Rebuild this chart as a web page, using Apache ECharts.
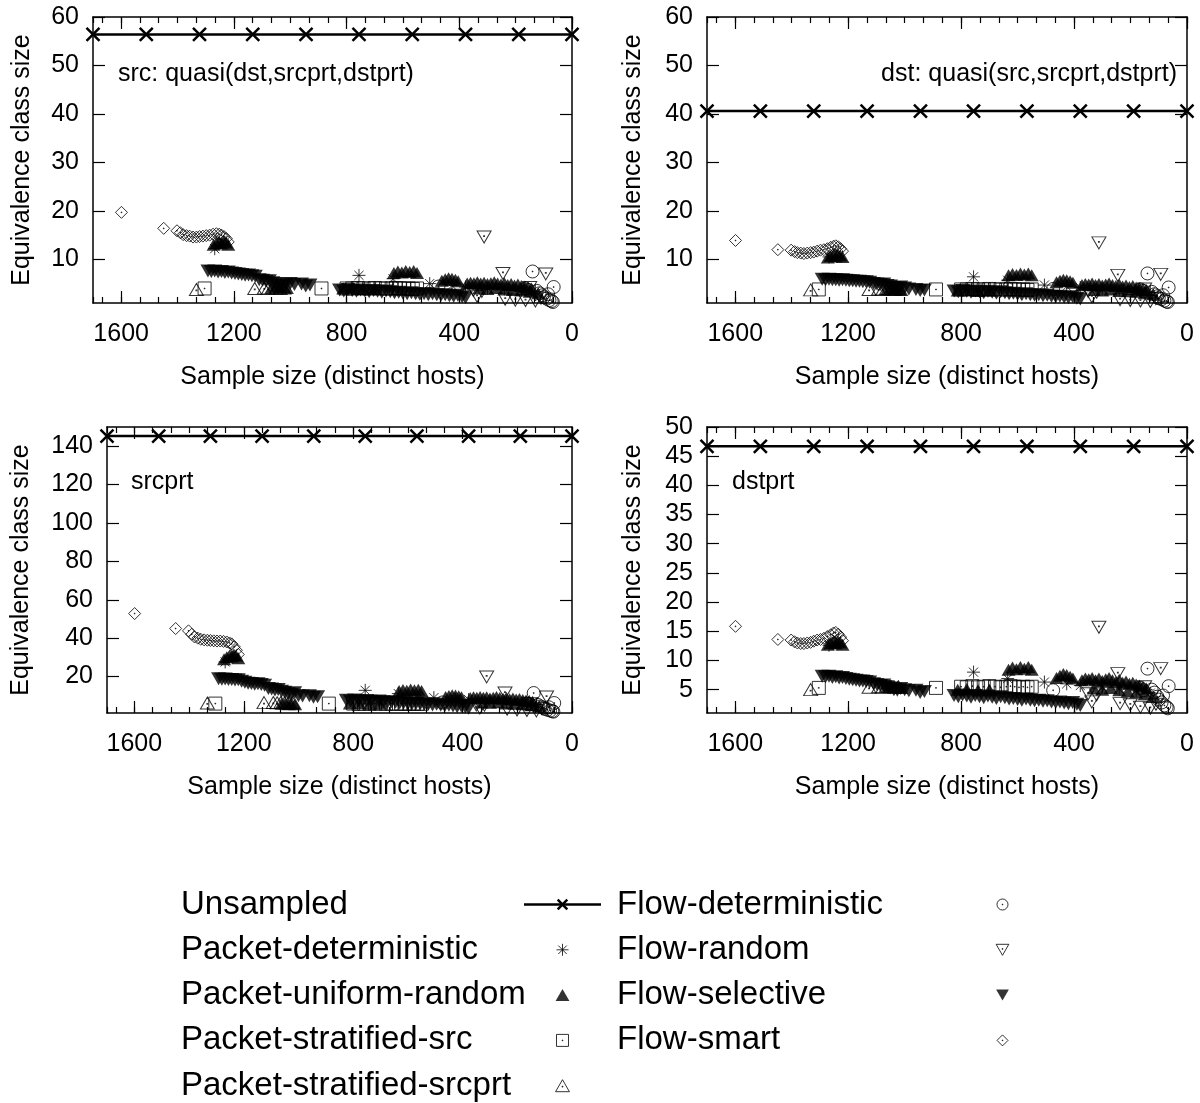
<!DOCTYPE html>
<html>
<head>
<meta charset="utf-8">
<title>Equivalence class size vs sample size</title>
<script src="https://cdn.jsdelivr.net/npm/echarts@6/dist/echarts.min.js"></script>
<style>
  html, body { margin: 0; padding: 0; background: #fff; }
  #chart { width: 1200px; height: 1103px; }
</style>
</head>
<body>
<div id="chart"></div>
<script>
// panels: 0 = src, 1 = dst, 2 = srcprt, 3 = dstprt
// x = sample size (distinct hosts), y = equivalence class size

var xTicks = [0, 400, 800, 1200, 1600];
var yTicksTop = [10, 20, 30, 40, 50, 60];
var yTicksSrcprt = [20, 40, 60, 80, 100, 120, 140];
var yTicksDstprt = [5, 10, 15, 20, 25, 30, 35, 40, 45, 50];

// Unsampled (constant per panel)
var unsampledX = [1700, 1511, 1322, 1133, 944, 756, 567, 378, 189, 0];
var unsampledY = [56.4, 40.6, 145.3, 46.7];

// Packet-deterministic
var pktDetX  = [1268, 756, 635, 505, 426, 378, 300, 240, 180, 130];
var pktDetTL = [12.2, 6.7, 6.0, 5.0, 4.6, 4.3, 4.1, 3.9, 3.7, 3.4];
var pktDetTR = [10.5, 6.4, 5.7, 4.7, 4.4, 4.2, 3.9, 3.7, 3.5, 3.2];
var pktDetBL = [27.6, 12.8, 11.1, 9.0, 8.2, 8.0, 7.2, 6.8, 6.2, 5.5];
var pktDetBR = [12.6, 8.0, 6.9, 6.3, 6.0, 5.7, 5.4, 5.1, 4.8, 4.4];

// Packet-uniform-random
var pktUniX  = [1272, 1262, 1252, 1244, 1236, 1228, 1220, 1062, 1048, 1036, 1024, 1012,
  632, 618, 604, 590, 576, 562, 550, 462, 450, 438, 426, 414, 404,
  372, 360, 348, 336, 324, 312, 300, 288, 276, 264, 252, 240, 228, 216, 204, 192, 180, 168, 156, 144,
  330, 300, 270, 240, 210, 180, 150, 120, 812, 780, 740, 700];
var pktUniTL = [13.0, 13.4, 13.6, 13.3, 13.8, 13.5, 13.0, 4.3, 4.4, 4.2, 4.3, 4.1,
  7.2, 7.5, 7.3, 7.6, 7.4, 7.6, 7.2, 5.6, 5.9, 6.1, 6.0, 5.8, 5.5,
  5.0, 5.2, 5.1, 5.3, 5.0, 5.2, 4.9, 5.1, 5.3, 5.0, 4.8, 5.1, 4.7, 4.9, 4.6, 4.8, 4.5, 4.4, 4.2, 4.0,
  4.0, 3.9, 4.1, 3.8, 3.7, 3.6, 3.3, 3.0, 4.0, 4.1, 3.9, 4.0];
var pktUniTR = [10.4, 10.7, 10.9, 10.6, 11.0, 10.8, 10.5, 3.9, 4.0, 3.8, 3.9, 3.7,
  6.7, 7.0, 6.8, 7.1, 6.9, 7.1, 6.7, 5.3, 5.6, 5.8, 5.7, 5.5, 5.2,
  4.7, 4.9, 4.8, 5.0, 4.7, 4.9, 4.6, 4.8, 5.0, 4.7, 4.5, 4.8, 4.4, 4.6, 4.3, 4.5, 4.2, 4.1, 3.9, 3.7,
  3.7, 3.6, 3.8, 3.5, 3.4, 3.3, 3.0, 2.8, 3.6, 3.7, 3.5, 3.6];
var pktUniBL = [29.0, 30.0, 31.0, 30.5, 31.5, 30.8, 29.5, 5.8, 6.0, 5.6, 5.8, 5.5,
  12.4, 13.0, 12.6, 13.2, 12.8, 13.1, 12.4, 9.3, 9.9, 10.3, 10.1, 9.7, 9.2,
  8.8, 9.2, 9.0, 9.4, 8.9, 9.2, 8.6, 9.0, 9.3, 8.8, 8.4, 8.9, 8.2, 8.5, 8.0, 8.3, 7.8, 7.5, 7.2, 6.8,
  6.5, 6.3, 6.6, 6.0, 5.8, 5.6, 5.0, 4.5, 6.0, 6.2, 5.8, 6.0];
var pktUniBR = [12.7, 13.0, 13.2, 12.9, 13.3, 13.1, 12.7, 5.5, 5.7, 5.4, 5.5, 5.3,
  8.4, 8.8, 8.5, 8.9, 8.6, 8.9, 8.4, 7.0, 7.4, 7.7, 7.5, 7.2, 6.9,
  6.6, 6.9, 6.8, 7.0, 6.6, 6.9, 6.5, 6.8, 7.0, 6.6, 6.3, 6.7, 6.2, 6.4, 6.0, 6.2, 5.9, 5.7, 5.5, 5.2,
  5.2, 5.0, 5.3, 4.9, 4.7, 4.5, 4.2, 3.8, 5.0, 5.1, 4.9, 5.0];

// Packet-stratified-src
var pktSrcX  = [1304, 889, 800, 780, 760, 740, 720, 700, 680, 660, 640, 625, 610, 595, 580, 565, 550];
var pktSrcTL = [4.0, 4.0, 4.0, 4.0, 4.1, 4.0, 4.0, 4.1, 4.0, 4.0, 4.0, 4.1, 4.0, 4.0, 4.0, 3.9, 4.0];
var pktSrcTR = [3.8, 3.8, 3.8, 3.8, 3.9, 3.8, 3.8, 3.9, 3.8, 3.8, 3.8, 3.9, 3.8, 3.8, 3.8, 3.7, 3.8];
var pktSrcBL = [5.9, 5.9, 5.9, 5.8, 5.9, 5.8, 5.9, 5.9, 5.8, 5.9, 5.8, 5.9, 5.8, 5.8, 5.9, 5.8, 5.8];
var pktSrcBR = [5.3, 5.3, 5.5, 5.4, 5.6, 5.4, 5.5, 5.6, 5.5, 5.4, 5.5, 5.6, 5.5, 5.4, 5.5, 5.4, 5.5];

// Packet-stratified-srcprt
var pktPrtX  = [1333, 1126, 1092, 1078, 1064, 1050, 1036, 1022];
var pktPrtTL = [3.8, 4.0, 4.1, 4.0, 4.2, 4.1, 4.0, 4.1];
var pktPrtTR = [3.7, 3.8, 3.9, 3.8, 4.0, 3.9, 3.8, 3.9];
var pktPrtBL = [6.2, 6.4, 6.5, 6.3, 6.6, 6.4, 6.3, 6.4];
var pktPrtBR = [5.0, 5.4, 5.5, 5.4, 5.6, 5.5, 5.4, 5.5];

// Flow-deterministic
var flowDetX  = [474, 165, 155, 140, 125, 115, 105, 100, 90, 85, 80, 72, 68, 65];
var flowDetTL = [4.4, 4.0, 3.7, 7.5, 3.5, 3.0, 2.6, 2.2, 1.9, 2.8, 1.6, 1.4, 1.2, 4.3];
var flowDetTR = [3.9, 3.8, 3.5, 7.1, 3.3, 2.8, 2.4, 2.0, 1.8, 2.6, 1.5, 1.3, 1.2, 4.2];
var flowDetBL = [6.5, 6.0, 5.6, 11.4, 5.2, 4.4, 3.8, 3.2, 2.7, 4.0, 2.3, 2.0, 1.7, 6.2];
var flowDetBR = [4.9, 5.3, 4.9, 8.6, 5.0, 4.5, 3.8, 3.3, 2.8, 4.0, 2.3, 2.0, 1.8, 5.6];

// Flow-random
var flowRndX  = [312, 245, 93, 350, 337, 320, 237, 201, 165, 150, 130, 110];
var flowRndTL = [14.6, 7.1, 7.0, 3.6, 2.4, 3.4, 1.8, 1.6, 1.5, 4.2, 1.4, 2.0];
var flowRndTR = [13.4, 6.7, 6.9, 3.4, 2.3, 3.2, 1.7, 1.5, 1.4, 3.9, 1.3, 1.9];
var flowRndBL = [19.8, 11.4, 9.3, 5.2, 3.6, 5.0, 3.0, 2.6, 2.3, 6.0, 2.1, 3.2];
var flowRndBR = [15.7, 7.75, 8.6, 4.3, 2.9, 4.1, 2.6, 2.4, 2.0, 5.5, 1.8, 2.5];

// Flow-selective
var flowSelX  = [1292, 1280, 1268, 1256, 1244, 1232, 1220, 1208, 1196, 1184, 1172, 1160, 1148, 1136, 1124,
  1110, 1098, 1086, 1074, 1062, 1050, 1038, 1026, 1014, 1000, 985, 960, 945, 930,
  825, 810, 795, 780, 765, 750, 735, 720, 705, 690, 675, 660, 645, 630, 615, 600,
  585, 570, 555, 540, 525, 510, 495, 480, 465, 450, 435, 420, 405, 390, 378];
var flowSelTL = [7.6, 7.5, 7.6, 7.4, 7.5, 7.3, 7.4, 7.2, 7.1, 7.0, 6.9, 6.7, 6.8, 6.6, 6.5,
  5.8, 5.7, 5.5, 5.6, 5.2, 5.0, 4.6, 4.5, 4.9, 5.0, 4.8, 4.9, 4.5, 4.7,
  3.7, 3.5, 3.8, 3.6, 3.4, 3.7, 3.5, 3.3, 3.6, 3.4, 3.2, 3.5, 3.3, 3.1, 3.2, 3.0,
  2.9, 3.1, 2.9, 2.8, 2.9, 2.7, 2.9, 2.7, 2.6, 2.7, 2.5, 2.4, 2.6, 2.3, 2.1];
var flowSelTR = [5.9, 5.8, 5.9, 5.8, 5.8, 5.7, 5.8, 5.7, 5.6, 5.6, 5.5, 5.5, 5.4, 5.4, 5.3,
  5.0, 4.9, 4.8, 4.9, 4.6, 4.5, 4.2, 4.1, 4.3, 4.1, 3.9, 3.8, 3.6, 3.7,
  3.5, 3.3, 3.6, 3.4, 3.2, 3.5, 3.3, 3.1, 3.4, 3.2, 3.0, 3.3, 3.1, 2.9, 3.0, 2.8,
  2.7, 2.9, 2.7, 2.6, 2.7, 2.5, 2.6, 2.4, 2.3, 2.4, 2.2, 2.1, 2.3, 2.0, 1.8];
var flowSelBL = [18.8, 18.6, 18.7, 18.4, 18.5, 18.2, 18.3, 17.6, 17.0, 16.5, 16.4, 16.0, 16.2, 15.8, 15.5,
  13.8, 13.5, 13.0, 13.2, 12.3, 11.8, 11.0, 10.8, 11.5, 10.0, 9.8, 10.0, 9.2, 9.5,
  7.6, 7.2, 7.8, 7.4, 7.0, 7.5, 7.1, 6.8, 7.2, 6.9, 6.5, 6.9, 6.6, 6.2, 6.4, 6.0,
  5.8, 6.1, 5.7, 5.5, 5.6, 5.2, 5.5, 5.1, 4.8, 5.0, 4.6, 4.3, 4.6, 4.0, 3.5];
var flowSelBR = [7.3, 7.2, 7.3, 7.1, 7.2, 7.0, 7.1, 6.9, 6.8, 6.7, 6.6, 6.5, 6.5, 6.4, 6.3,
  6.0, 5.9, 5.7, 5.8, 5.5, 5.3, 5.0, 4.9, 5.2, 5.0, 4.8, 4.9, 4.5, 4.7,
  4.0, 3.8, 4.1, 3.9, 3.7, 4.0, 3.8, 3.6, 3.9, 3.7, 3.5, 3.8, 3.6, 3.4, 3.5, 3.3,
  3.2, 3.4, 3.2, 3.1, 3.2, 3.0, 3.1, 2.9, 2.8, 2.9, 2.7, 2.6, 2.8, 2.5, 2.3];

// Flow-smart
var flowSmartX  = [1599, 1449, 1402, 1390, 1380, 1368, 1357, 1345, 1333, 1322, 1310, 1298, 1286, 1274, 1262, 1252, 1244, 1235, 1227, 1220];
var flowSmartTL = [19.7, 16.4, 15.9, 15.5, 15.1, 14.9, 14.8, 14.6, 14.6, 14.7, 14.8, 14.9, 15.0, 15.2, 15.3, 15.2, 15.0, 14.7, 14.3, 13.6];
var flowSmartTR = [13.9, 12.0, 11.9, 11.6, 11.4, 11.3, 11.2, 11.3, 11.4, 11.5, 11.7, 11.9, 12.0, 12.2, 12.5, 12.7, 12.8, 12.6, 12.2, 11.7];
var flowSmartBL = [52.8, 45.0, 43.8, 42.0, 40.6, 40.0, 39.4, 39.1, 38.9, 38.8, 38.6, 38.5, 38.5, 38.3, 38.0, 37.5, 37.0, 35.5, 33.7, 31.5];
var flowSmartBR = [15.85, 13.6, 13.5, 13.2, 13.0, 12.9, 12.9, 13.0, 13.1, 13.3, 13.5, 13.6, 13.8, 14.1, 14.4, 14.7, 14.8, 14.5, 14.0, 13.4];

var FONT = "'Liberation Sans', Arial, Helvetica, sans-serif";
var DOT = ' M-0.6,-0.6h1.2v1.2h-1.2Z';
var SYM = {
	cross: 'path://M-10,-10L10,10M-10,10L10,-10',
	star: 'path://M0,-10V10M-10,0H10M-7,-7L7,7M-7,7L7,-7',
	tri: 'path://M0,-10L10,7.3L-10,7.3Z',
	triDot: 'path://M0,-10L10,7.3L-10,7.3Z' + DOT,
	triDown: 'path://M0,10L10,-7.3L-10,-7.3Z',
	triDownDot: 'path://M0,10L10,-7.3L-10,-7.3Z' + DOT,
	square: 'path://M-10,-10H10V10H-10Z' + DOT,
	circle: 'path://M0,-10A10,10 0 1 1 0,10A10,10 0 1 1 0,-10Z' + DOT,
	diamond: 'path://M0,-10L10,0L0,10L-10,0Z' + DOT
};

// 浅拷贝合并
function extend(target) {
	for (var i = 1; i < arguments.length; i++) {
		var src = arguments[i];
		for (var k in src) {
			if (src.hasOwnProperty(k)) target[k] = src[k];
		}
	}
	return target;
}

// layout of the four panels (plot area in px)
var panels = [
	{ grid: { left: 93, top: 17, width: 479, height: 286 }, yMax: 60, yTicks: yTicksTop, nameGap: 58,
		label: 'src: quasi(dst,srcprt,dstprt)', lx: 118, ly: 74, la: 'left' },
	{ grid: { left: 707, top: 17, width: 480, height: 286 }, yMax: 60, yTicks: yTicksTop, nameGap: 61,
		label: 'dst: quasi(src,srcprt,dstprt)', lx: 1177, ly: 74, la: 'right' },
	{ grid: { left: 107, top: 427, width: 465, height: 286 }, yMax: 150, yTicks: yTicksSrcprt, nameGap: 73,
		label: 'srcprt', lx: 131, ly: 482, la: 'left' },
	{ grid: { left: 707, top: 427, width: 480, height: 286 }, yMax: 50, yTicks: yTicksDstprt, nameGap: 61,
		label: 'dstprt', lx: 732, ly: 482, la: 'left' }
];

var methods = [
	{ name: 'Packet-deterministic', x: pktDetX, y: [pktDetTL, pktDetTR, pktDetBL, pktDetBR], symbol: SYM.star, size: 13, filled: false },
	{ name: 'Packet-uniform-random', x: pktUniX, y: [pktUniTL, pktUniTR, pktUniBL, pktUniBR], symbol: SYM.tri, size: [14, 12], filled: true },
	{ name: 'Packet-stratified-src', x: pktSrcX, y: [pktSrcTL, pktSrcTR, pktSrcBL, pktSrcBR], symbol: SYM.square, size: 13, filled: false },
	{ name: 'Packet-stratified-srcprt', x: pktPrtX, y: [pktPrtTL, pktPrtTR, pktPrtBL, pktPrtBR], symbol: SYM.triDot, size: [14, 12], filled: false },
	{ name: 'Flow-deterministic', x: flowDetX, y: [flowDetTL, flowDetTR, flowDetBL, flowDetBR], symbol: SYM.circle, size: 13, filled: false },
	{ name: 'Flow-random', x: flowRndX, y: [flowRndTL, flowRndTR, flowRndBL, flowRndBR], symbol: SYM.triDownDot, size: [14, 12], filled: false },
	{ name: 'Flow-selective', x: flowSelX, y: [flowSelTL, flowSelTR, flowSelBL, flowSelBR], symbol: SYM.triDown, size: [15, 13], filled: true },
	{ name: 'Flow-smart', x: flowSmartX, y: [flowSmartTL, flowSmartTR, flowSmartBL, flowSmartBR], symbol: SYM.diamond, size: 12, filled: false }
];

var black = '#000';
var tickStyle = { color: black, width: 1.2 };
var axisLine = { show: true, onZero: false, lineStyle: { color: black, width: 1.5 } };

var grids = [], xAxes = [], yAxes = [], series = [], graphics = [];

panels.forEach(function (p, i) {
	grids.push(p.grid);

	var xBase = { type: 'value', gridIndex: i, min: 0, max: 1700, inverse: true, splitLine: { show: false } };
	// 下方：刻度标签 + 主刻度
	xAxes.push(extend({}, xBase, {
		position: 'bottom',
		name: 'Sample size (distinct hosts)', nameLocation: 'middle', nameGap: 62,
		nameTextStyle: { color: black, fontSize: 25, fontFamily: FONT },
		axisLine: axisLine,
		axisTick: { inside: true, length: 12, customValues: xTicks, lineStyle: tickStyle },
		axisLabel: { customValues: xTicks, margin: 19, color: black, fontSize: 25, fontFamily: FONT,
			formatter: function (v) { return String(v); } }
	}));
	// 下方次刻度
	xAxes.push(extend({}, xBase, {
		position: 'bottom', interval: 200 / 3,
		axisLine: { show: false, onZero: false },
		axisTick: { inside: true, length: 6, lineStyle: tickStyle },
		axisLabel: { show: false }
	}));
	// 上方镜像
	xAxes.push(extend({}, xBase, {
		position: 'top',
		axisLine: axisLine,
		axisTick: { inside: true, length: 12, customValues: xTicks, lineStyle: tickStyle },
		axisLabel: { show: false }
	}));
	xAxes.push(extend({}, xBase, {
		position: 'top', interval: 200 / 3,
		axisLine: { show: false, onZero: false },
		axisTick: { inside: true, length: 6, lineStyle: tickStyle },
		axisLabel: { show: false }
	}));

	var yBase = { type: 'value', gridIndex: i, min: 1, max: p.yMax, splitLine: { show: false } };
	yAxes.push(extend({}, yBase, {
		position: 'left',
		name: 'Equivalence class size', nameLocation: 'middle', nameGap: p.nameGap,
		nameTextStyle: { color: black, fontSize: 25, fontFamily: FONT },
		axisLine: axisLine,
		axisTick: { inside: true, length: 12, customValues: p.yTicks, lineStyle: tickStyle },
		axisLabel: { customValues: p.yTicks, margin: 14, color: black, fontSize: 25, fontFamily: FONT }
	}));
	yAxes.push(extend({}, yBase, {
		position: 'right',
		axisLine: axisLine,
		axisTick: { inside: true, length: 12, customValues: p.yTicks, lineStyle: tickStyle },
		axisLabel: { show: false }
	}));

	// Unsampled 水平线
	series.push({
		type: 'line', name: 'Unsampled', xAxisIndex: i * 4, yAxisIndex: i * 2,
		symbol: SYM.cross, symbolSize: 13, showSymbol: true,
		lineStyle: { color: black, width: 2.5 },
		itemStyle: { color: 'transparent', borderColor: black, borderWidth: 2.5 },
		data: unsampledX.map(function (x) { return [x, unsampledY[i]]; }),
		silent: true, emphasis: { disabled: true }
	});

	methods.forEach(function (m) {
		var ys = m.y[i];
		series.push({
			type: 'scatter', name: m.name, xAxisIndex: i * 4, yAxisIndex: i * 2,
			symbol: m.symbol, symbolSize: m.size,
			itemStyle: m.filled ? { color: black } : { color: 'transparent', borderColor: black, borderWidth: 1 },
			data: m.x.map(function (x, k) { return [x, ys[k]]; }),
			silent: true, emphasis: { disabled: true }
		});
	});

	graphics.push({
		type: 'text', silent: true,
		style: { x: p.lx, y: p.ly, text: p.label, fill: black, fontSize: 25, fontFamily: FONT,
			align: p.la, verticalAlign: 'middle' }
	});
});

function legendBox(names, left, textWidth, itemHeight) {
	return {
		data: names.map(function (n) {
			if (n === 'Unsampled') {
				return { name: n, itemStyle: { borderWidth: 2.5 }, lineStyle: { width: 2.5 } };
			}
			return { name: n };
		}),
		left: left, top: 888, padding: 0, orient: 'vertical', align: 'right',
		itemWidth: 77, itemHeight: itemHeight, itemGap: 12.3,
		selectedMode: false,
		itemStyle: { borderWidth: 1 },
		formatter: '{a|{name}}',
		textStyle: {
			color: black,
			rich: { a: { width: textWidth, align: 'left', fontSize: 33, lineHeight: 40, fontFamily: FONT, color: black } }
		}
	};
}

var option = {
	animation: false,
	backgroundColor: '#fff',
	grid: grids,
	xAxis: xAxes,
	yAxis: yAxes,
	legend: [
		legendBox(['Unsampled', 'Packet-deterministic', 'Packet-uniform-random', 'Packet-stratified-src', 'Packet-stratified-srcprt'], 181, 338, 12),
		legendBox(['Flow-deterministic', 'Flow-random', 'Flow-selective', 'Flow-smart'], 617, 342, 11)
	],
	graphic: graphics,
	series: series
};

var myChart = echarts.init(document.getElementById('chart'));
myChart.setOption(option);
</script>
</body>
</html>
